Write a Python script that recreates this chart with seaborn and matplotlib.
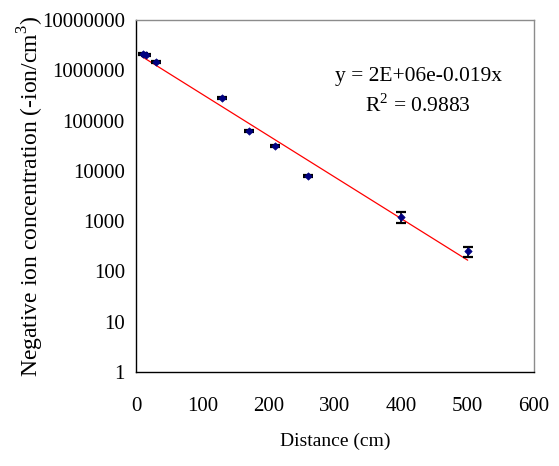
import numpy as np
import pandas as pd
import matplotlib
matplotlib.use("Agg")
import matplotlib.pyplot as plt
import seaborn as sns

# Measured negative ion concentration versus distance from the source
distance_cm = [10, 15, 30, 130, 170, 210, 260, 400, 500]
concentration = [2.08e6, 1.99e6, 1.44e6, 2.77e5, 6.3e4, 3.16e4, 7.9e3, 1.23e3, 250]
std_err = [1.0e5, 8.0e4, 6.0e4, 1.2e4, 3.0e3, 1.5e3, 4.0e2, 320, 52]

x_ticks = [0, 100, 200, 300, 400, 500, 600]
y_ticks = [1, 10, 100, 1000, 10000, 100000, 1000000, 10000000]
y_tick_labels = ["1", "10", "100", "1000", "10000", "100000", "1000000", "10000000"]

eq_text = "y = 2E+06e-0.019x"
r2_text = "R$^2$ = 0.9883"

sns.set_theme(style="white")
plt.rcParams["font.family"] = ["Liberation Serif", "DejaVu Serif"]
plt.rcParams["mathtext.fontset"] = "custom"
plt.rcParams["mathtext.rm"] = "Liberation Serif"

df = pd.DataFrame({"distance": distance_cm, "conc": concentration, "err": std_err})

# Exponential trendline fitted on log-concentration
slope, intercept = np.polyfit(df["distance"], np.log(df["conc"]), 1)
fit_x = np.linspace(min(distance_cm), max(distance_cm), 200)
fit = pd.DataFrame({"distance": fit_x, "conc": np.exp(intercept) * np.exp(slope * fit_x)})

fig = plt.figure(figsize=(5.59, 4.66), dpi=100)
ax = fig.add_axes([0.2433, 0.2017, 0.712, 0.7553])

ax.errorbar(df["distance"], df["conc"], yerr=df["err"], fmt="none",
            ecolor="black", elinewidth=1.2, capsize=3.5, capthick=1.6, zorder=3)
sns.lineplot(data=fit, x="distance", y="conc", color="red", linewidth=0.9, ax=ax, zorder=2)
sns.scatterplot(data=df, x="distance", y="conc", marker="D", s=14, color="#000080",
                edgecolor="#000080", linewidth=0.5, ax=ax, zorder=4)

ax.set_yscale("log")
ax.set_xlim(0, 600)
ax.set_ylim(1, 1e7)
ax.set_xticks(x_ticks)
ax.set_xticklabels([str(t) for t in x_ticks])
ax.set_yticks(y_ticks)
ax.set_yticklabels(y_tick_labels)
ax.minorticks_off()
ax.yaxis.set_minor_locator(matplotlib.ticker.NullLocator())

ax.tick_params(axis="both", direction="in", length=5, width=0.8, color="black",
               labelsize=15, colors="black")
ax.tick_params(axis="x", pad=18)
ax.tick_params(axis="y", pad=8)

for side in ["left", "bottom"]:
    ax.spines[side].set_color("black")
    ax.spines[side].set_linewidth(1.0)
for side in ["top", "right"]:
    ax.spines[side].set_color("#8c8c8c")
    ax.spines[side].set_linewidth(1.0)

ax.set_xlabel("Distance (cm)", fontsize=14, color="black", labelpad=12)
ax.set_ylabel("Negative ion concentration (-ion/cm$^3$)", fontsize=17, color="black", labelpad=-3)

ax.text(0.709, 0.841, eq_text, transform=ax.transAxes, ha="center", va="center",
        fontsize=15.5, color="black")
ax.text(0.709, 0.756, r2_text, transform=ax.transAxes, ha="center", va="center",
        fontsize=15.5, color="black")

fig.savefig("out.png", dpi=100)
